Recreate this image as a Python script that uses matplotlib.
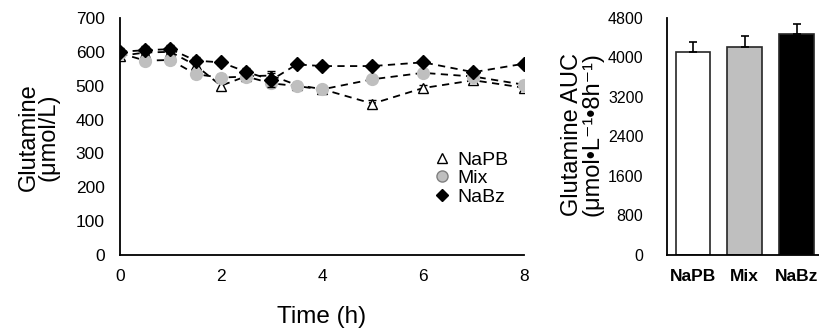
import numpy as np
import matplotlib
matplotlib.use('Agg')
import matplotlib.pyplot as plt
from matplotlib.lines import Line2D

plt.rcParams['font.family'] = ['Liberation Sans', 'DejaVu Sans']

# ---------- datos ----------
time = [0, 0.5, 1, 1.5, 2, 2.5, 3, 3.5, 4, 5, 6, 7, 8]
napb = [588, 598, 600, 560, 500, 528, 530, 502, 490, 447, 493, 516, 494]
napb_err = [12, 10, 12, 10, 12, 10, 12, 8, 8, 10, 8, 8, 8]
mix = [596, 574, 576, 534, 524, 527, 507, 499, 489, 519, 538, 527, 503]
mix_err = [10, 10, 12, 10, 12, 10, 12, 8, 8, 8, 8, 8, 10]
nabz = [600, 605, 608, 574, 569, 541, 517, 563, 558, 558, 569, 540, 565]
nabz_err = [10, 12, 12, 10, 8, 10, 20, 8, 8, 8, 8, 8, 8]

grupos = ['NaPB', 'Mix', 'NaBz']
auc = [4120, 4215, 4485]
auc_err = [200, 230, 195]
colores = ['white', '#bfbfbf', 'black']

fig = plt.figure(figsize=(8.19, 3.35), dpi=100)

# ---------- panel izquierdo ----------
ax1 = fig.add_axes([0.1465, 0.2388, 0.4933, 0.7075])
ax1.errorbar(time, napb, yerr=napb_err, fmt='^--', color='black', mfc='white', mec='black',
             ms=7.5, lw=1.3, dashes=(4, 3), capsize=3, elinewidth=1, zorder=2)
ax1.errorbar(time, mix, yerr=mix_err, fmt='o--', color='black', mfc='#bfbfbf', mec='#bfbfbf',
             ms=8.5, lw=1.3, dashes=(4, 3), capsize=3, elinewidth=1, zorder=3)
ax1.errorbar(time, nabz, yerr=nabz_err, fmt='D--', color='black', mfc='black', mec='black',
             ms=7.5, lw=1.3, dashes=(4, 3), capsize=3, elinewidth=1, zorder=4)
ax1.set_xlim(0, 8)
ax1.set_ylim(0, 700)
ax1.set_xticks([0, 2, 4, 6, 8])
ax1.set_yticks(np.arange(0, 701, 100))
ax1.tick_params(axis='y', length=0, labelsize=12.5, pad=11)
ax1.tick_params(axis='x', length=0, labelsize=12.5, pad=10)
ax1.spines['top'].set_visible(False)
ax1.spines['right'].set_visible(False)
ax1.spines['left'].set_linewidth(1.3)
ax1.spines['bottom'].set_linewidth(1.3)
ax1.set_xlabel('Time (h)', fontsize=17.5, labelpad=16)
fig.text(0.0476, 0.59, 'Glutamine\n(μmol/L)', rotation=90, ha='center', va='center',
         fontsize=17, linespacing=0.85)

handles = [Line2D([], [], marker='^', ls='none', mfc='white', mec='black', ms=7, mew=1),
           Line2D([], [], marker='o', ls='none', mfc='#bfbfbf', mec='#7f7f7f', ms=8, mew=1),
           Line2D([], [], marker='D', ls='none', mfc='black', mec='black', ms=6)]
ax1.legend(handles, grupos, loc='upper left', bbox_to_anchor=(0.75, 0.48), frameon=False,
           fontsize=14, handletextpad=0.25, labelspacing=0.05, handlelength=1.0,
           borderpad=0)

# ---------- panel derecho ----------
ax2 = fig.add_axes([0.8144, 0.2388, 0.19, 0.7075])
x = np.arange(len(grupos))
ax2.bar(x, auc, width=0.67, color=colores, edgecolor='#262626', linewidth=1.2,
        yerr=[np.zeros(len(auc)), auc_err],
        error_kw=dict(ecolor='black', capsize=3, elinewidth=1.2, capthick=1.2))
ax2.set_xlim(-0.5, 2.5)
ax2.set_ylim(0, 4800)
ax2.set_yticks(np.arange(0, 4801, 800))
ax2.set_xticks(x)
ax2.set_xticklabels(grupos, fontweight='bold', fontsize=12.5)
ax2.tick_params(axis='y', length=0, labelsize=11.5, pad=17)
ax2.tick_params(axis='x', length=0, pad=10)
ax2.spines['top'].set_visible(False)
ax2.spines['right'].set_visible(False)
ax2.spines['left'].set_linewidth(1.3)
ax2.spines['bottom'].set_linewidth(1.3)
fig.text(0.7106, 0.6, 'Glutamine AUC\n(μmol•L⁻¹•8h⁻¹)', rotation=90,
         ha='center', va='center', fontsize=17, linespacing=0.9)

plt.savefig('out.png', dpi=100)
